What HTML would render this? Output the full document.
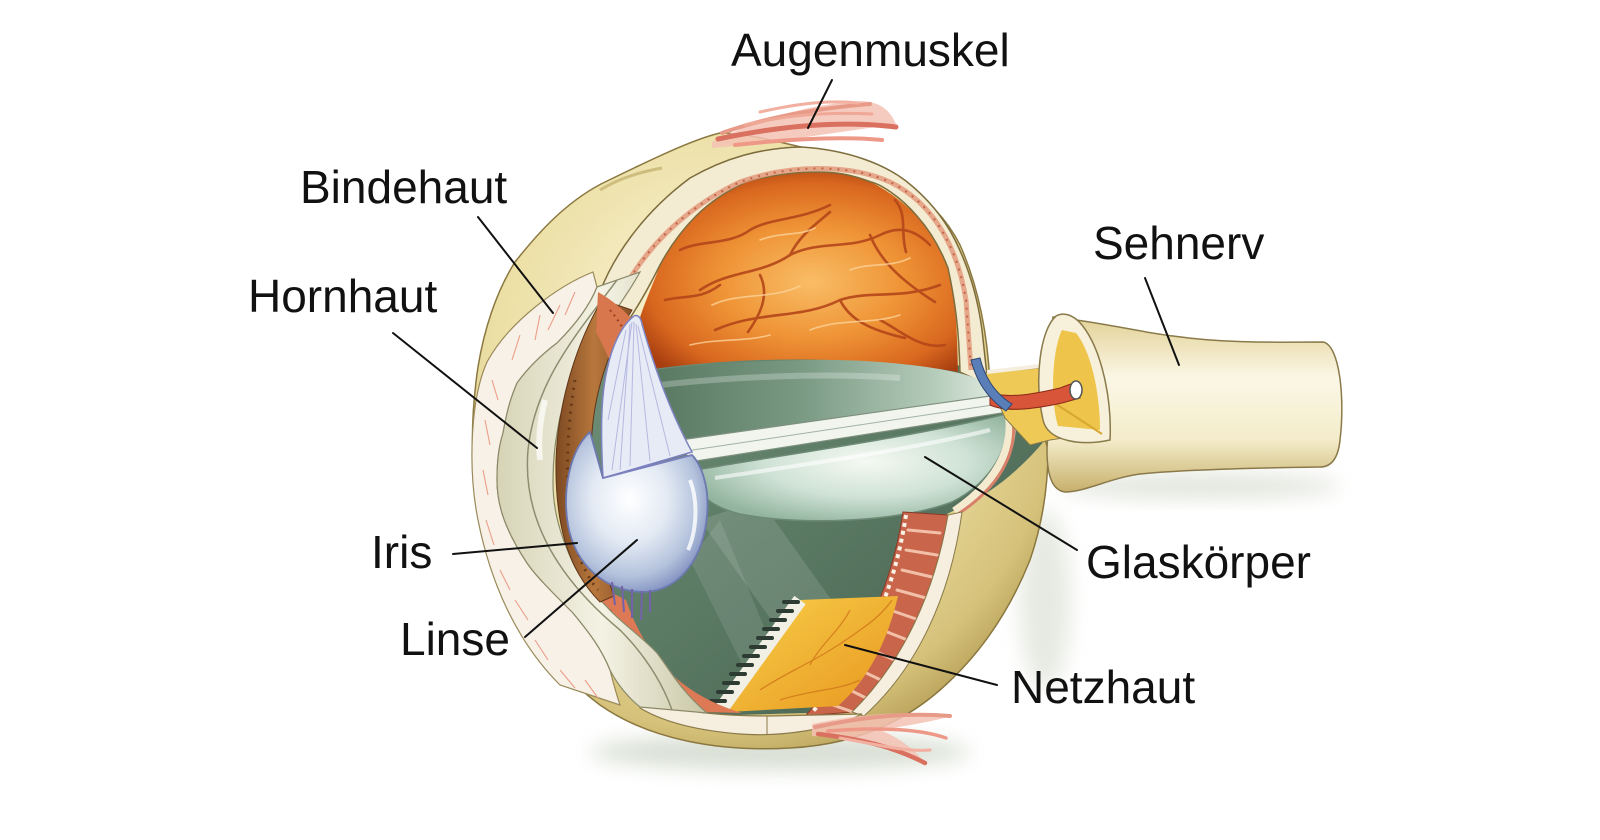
<!DOCTYPE html>
<html><head><meta charset="utf-8"><style>
html,body{margin:0;padding:0;background:#fff;}
svg{display:block;}
text{font-family:"Liberation Sans",Arial,sans-serif;font-size:46px;fill:#111;}
</style></head><body>
<svg width="1600" height="840" viewBox="0 0 1600 840" xmlns="http://www.w3.org/2000/svg">
<defs>
<filter id="blur" x="-50%" y="-50%" width="200%" height="200%"><feGaussianBlur stdDeviation="10"/></filter>
<radialGradient id="ysc" cx="0.42" cy="0.35" r="0.75">
<stop offset="0" stop-color="#fbf5da"/><stop offset="0.5" stop-color="#ece0a6"/><stop offset="0.82" stop-color="#d6c27a"/><stop offset="1" stop-color="#a48c45"/></radialGradient>
<radialGradient id="ora" cx="0.55" cy="0.55" r="0.62">
<stop offset="0" stop-color="#f9bd66"/><stop offset="0.45" stop-color="#ef9436"/><stop offset="0.8" stop-color="#d9671f"/><stop offset="1" stop-color="#a63d10"/></radialGradient>
<linearGradient id="gbase" x1="0" y1="0" x2="1" y2="1">
<stop offset="0" stop-color="#6f8f78"/><stop offset="0.5" stop-color="#5a7963"/><stop offset="1" stop-color="#425d4a"/></linearGradient>
<linearGradient id="gup" x1="0" y1="0" x2="1" y2="0">
<stop offset="0" stop-color="#55745d"/><stop offset="0.45" stop-color="#7a9a84"/><stop offset="0.8" stop-color="#b3cab8"/><stop offset="1" stop-color="#e6efe6"/></linearGradient>
<radialGradient id="bowl" cx="0.55" cy="0.45" r="0.6">
<stop offset="0" stop-color="#f5f9f3"/><stop offset="0.55" stop-color="#cfe2d5"/><stop offset="1" stop-color="#93b59f"/></radialGradient>
<radialGradient id="lens" cx="0.45" cy="0.42" r="0.6">
<stop offset="0" stop-color="#ffffff"/><stop offset="0.45" stop-color="#e3eaf4"/><stop offset="0.8" stop-color="#b4c2dc"/><stop offset="1" stop-color="#8595c2"/></radialGradient>
<linearGradient id="nerve" x1="0" y1="0" x2="0" y2="1">
<stop offset="0" stop-color="#e2d196"/><stop offset="0.35" stop-color="#fbf7e6"/><stop offset="0.7" stop-color="#f4ecca"/><stop offset="1" stop-color="#c8b06c"/></linearGradient>
<linearGradient id="yel" x1="0" y1="0" x2="1" y2="1">
<stop offset="0" stop-color="#f8d04a"/><stop offset="1" stop-color="#e8961e"/></linearGradient>
<linearGradient id="corn" x1="0" y1="0" x2="1" y2="0">
<stop offset="0" stop-color="#d6d4b6"/><stop offset="0.5" stop-color="#f4f2e4"/><stop offset="1" stop-color="#c9c7a6"/></linearGradient>
<linearGradient id="iris" x1="0" y1="0" x2="1" y2="0">
<stop offset="0" stop-color="#7e4a22"/><stop offset="0.5" stop-color="#b7773c"/><stop offset="1" stop-color="#8a5128"/></linearGradient>
</defs>

<rect width="1600" height="840" fill="#fff"/>

<!-- shadows -->
<ellipse cx="780" cy="752" rx="190" ry="18" fill="#c9d2c2" opacity="0.7" filter="url(#blur)"/>
<ellipse cx="1200" cy="486" rx="140" ry="12" fill="#d3d9cc" opacity="0.7" filter="url(#blur)"/>
<ellipse cx="1045" cy="600" rx="25" ry="90" fill="#d6dccf" opacity="0.6" filter="url(#blur)"/>

<!-- outer sclera silhouette -->
<path d="M720,133 C690,140 640,165 601,184 C565,203 538,233 515,262 C496,292 484,330 478,367 C470,420 470,480 482,530 C500,600 540,660 600,705 C650,740 720,752 790,748 C850,745 900,725 940,690 C980,655 1010,610 1030,560 C1042,525 1048,490 1048,450 L1040,420 L990,385 C988,340 980,290 960,245 C935,195 880,160 801,147 C770,140 745,133 720,133 Z" fill="url(#ysc)" stroke="#8b7840" stroke-width="1.5"/>
<path d="M600,190 C620,178 640,172 662,168" stroke="#b9a35c" stroke-width="3" fill="none" opacity="0.6"/>

<!-- interior base green -->
<path d="M600,330 L640,340 L958,365 L1000,395 L1045,440 C1020,470 990,495 955,510 L945,515 C930,580 900,650 840,712 L700,716 C650,700 620,660 605,610 C590,560 585,460 600,330 Z" fill="url(#gbase)"/>
<path d="M700,520 L760,500 L860,640 L800,660 Z" fill="#ffffff" opacity="0.12"/>
<path d="M690,560 L720,520 L790,690 L760,700 Z" fill="#ffffff" opacity="0.1"/>

<!-- orange dome -->
<path d="M632,372 L636,330 C645,300 655,280 660,265 C672,245 684,228 696,216 C715,198 730,188 748,181 C775,174 800,172 818,172 C840,172 858,176 871,182 C890,192 905,204 917,216 C932,235 942,252 948,268 C955,295 957,320 958,372 C900,362 830,358 760,360 C700,362 660,368 632,372 Z" fill="url(#ora)"/>
<g fill="none" stroke="#b4461a" stroke-width="2.6" stroke-linecap="round" opacity="0.9">
<path d="M700,290 C730,270 760,275 790,255 C820,240 850,250 880,235 C900,225 915,230 930,245"/>
<path d="M790,255 C800,235 815,225 830,212"/>
<path d="M715,330 C760,310 800,320 840,300 C870,290 900,300 940,285"/>
<path d="M840,300 C850,320 870,330 905,338"/>
<path d="M680,250 C700,240 730,245 750,230 C770,218 800,220 830,205"/>
<path d="M870,235 C880,260 900,280 935,302"/>
<path d="M760,275 C770,295 760,315 748,332"/>
<path d="M895,200 C908,215 900,232 906,252"/>
<path d="M665,300 C685,295 700,300 720,285"/>
<path d="M880,320 C900,330 920,350 945,345"/>
</g>
<g fill="none" stroke="#fcd39a" stroke-width="1.6" stroke-linecap="round" opacity="0.8">
<path d="M712,305 C740,292 770,300 800,286"/>
<path d="M810,330 C840,318 870,325 900,315"/>
<path d="M760,240 C780,232 800,236 815,228"/>
<path d="M850,270 C870,262 890,268 910,258"/>
<path d="M690,345 C720,338 745,342 770,335"/>
</g>

<!-- top sclera cut band -->
<path d="M600,292 C612,260 640,215 690,178 C725,158 760,148 801,147 C850,150 885,165 906,181 C930,200 945,220 955,240 C970,270 978,300 982,330 L988,385 L960,372 C959,330 955,300 948,268 C938,242 925,225 917,216 C900,196 880,184 871,182 C850,174 835,172 818,172 C790,172 770,176 748,181 C725,192 710,202 696,216 C680,232 668,250 660,265 C650,285 642,300 630,318 Z" fill="#f4ecd2" stroke="#7d6c3c" stroke-width="1.5"/>
<path d="M618,300 C640,255 680,210 740,182 C790,164 850,164 890,182 C935,204 958,250 966,300 L971,370" fill="none" stroke="#e39a7c" stroke-width="5" opacity="0.85"/>
<path d="M618,300 C640,255 680,210 740,182 C790,164 850,164 890,182 C935,204 958,250 966,300 L971,370" fill="none" stroke="#b8553a" stroke-width="2" stroke-dasharray="2 6" opacity="0.8"/>

<!-- upper green -->
<path d="M636,372 C700,364 800,356 880,362 C930,366 960,372 975,378 C990,385 1000,392 1005,398 L686,446 C668,420 648,395 636,372 Z" fill="url(#gup)"/>
<path d="M660,385 C720,378 820,372 900,378" stroke="#ffffff" stroke-width="6" fill="none" opacity="0.25"/>

<!-- canal -->
<path d="M680,440 L1004,394 L1008,412 L690,462 Z" fill="#f1f5ee" stroke="#7f907f" stroke-width="1.2"/>
<path d="M686,451 L1006,403" stroke="#a3b2a3" stroke-width="1"/>

<!-- bowl -->
<path d="M697,470 C760,458 900,440 1006,414 C1012,445 992,482 952,502 C900,522 800,526 740,514 C705,505 690,487 697,470 Z" fill="url(#bowl)" stroke="#6d8a76" stroke-width="1.5"/>
<path d="M715,478 C780,468 900,452 990,430" stroke="#ffffff" stroke-width="4" fill="none" opacity="0.6"/>

<!-- right cut edge of bowl -->
<path d="M1006,400 C1020,440 1002,480 955,512" stroke="#f3ead0" stroke-width="10" fill="none"/>
<path d="M1010,405 C1022,445 1004,484 958,514" stroke="#d9806a" stroke-width="3" fill="none"/>

<!-- lower right red choroid band -->
<path d="M903,512 L948,515 C935,590 905,660 852,712 L805,716 C850,670 890,600 903,512 Z" fill="#c8654b" stroke="#8a3a28" stroke-width="1"/>
<g stroke="#f2c0a8" stroke-width="3" stroke-linecap="round">
<path d="M908,530 L940,533"/><path d="M906,550 L937,555"/><path d="M902,570 L932,577"/><path d="M897,590 L926,598"/><path d="M890,610 L919,620"/><path d="M882,630 L910,641"/><path d="M872,650 L899,662"/><path d="M860,670 L885,682"/><path d="M846,688 L870,700"/><path d="M830,704 L853,712"/>
</g>
<path d="M948,515 L962,512 C950,600 915,670 864,716 L852,712 C905,660 935,590 948,515 Z" fill="#f6efdf" stroke="#8a7a4a" stroke-width="1"/>
<path d="M906,515 C893,600 860,665 812,712" stroke="#f8f1e6" stroke-width="4" fill="none" stroke-dasharray="4 4"/>

<!-- yellow retina patch -->
<path d="M800,600 L898,596 C888,640 868,680 838,706 L728,712 L762,660 Z" fill="url(#yel)"/>
<g fill="none" stroke="#d0761a" stroke-width="1.3" opacity="0.8">
<path d="M760,690 C790,670 820,660 860,630 C875,620 885,610 892,600"/>
<path d="M810,665 C820,645 840,630 850,610"/>
<path d="M780,700 C810,690 840,690 860,680"/>
</g>
<!-- zigzag ora serrata -->
<path d="M800,600 L722,708" stroke="#f2f0e4" stroke-width="14" fill="none"/>
<g stroke="#2d3b33" stroke-width="4" stroke-linecap="round">
<path d="M798,602 h-14"/><path d="M792,611 h-14"/><path d="M785,620 h-14"/><path d="M778,629 h-14"/><path d="M772,638 h-14"/><path d="M765,647 h-14"/><path d="M758,656 h-14"/><path d="M752,665 h-14"/><path d="M745,674 h-14"/><path d="M738,683 h-14"/><path d="M732,692 h-14"/><path d="M725,701 h-14"/>
</g>

<!-- bottom cut white band -->
<path d="M640,700 C680,712 720,716 770,716 L862,714 C830,730 780,737 740,734 C690,730 660,720 640,708 Z" fill="#f6efdf" stroke="#8a7a4a" stroke-width="1.2"/>
<path d="M767,716 L767,734" stroke="#8a7a4a" stroke-width="1"/>

<!-- bottom ciliary -->
<path d="M596,585 C608,640 640,690 700,712 L742,713 C682,695 646,658 626,600 Z" fill="#dd7a55"/>
<path d="M610,610 C625,650 650,680 690,700" stroke="#9c3e22" stroke-width="2.5" fill="none" stroke-dasharray="2 5"/>

<!-- conjunctiva -->
<path d="M593,272 C560,285 510,320 487,362 C470,400 468,470 478,520 C490,580 515,640 560,685 L620,705 C615,690 612,678 610,670 C600,645 585,628 573,613 C550,590 535,575 527,563 C505,530 497,505 497,480 C497,455 500,443 503,433 C508,405 512,395 517,383 C530,365 545,352 557,343 C575,325 590,305 597,287 Z" fill="#f8f1e8" stroke="#9a8a5a" stroke-width="1.2"/>
<g fill="none" stroke="#ec9e88" stroke-width="1.1">
<path d="M575,292 L565,315 M560,305 L548,330 M540,315 L535,340 M520,335 L512,360"/>
<path d="M492,380 L498,400 M485,420 L490,445 M483,470 L488,495 M486,520 L494,545"/>
<path d="M500,570 L510,590 M515,600 L528,620 M535,640 L548,660 M560,670 L575,688 M585,680 L598,698"/>
</g>

<!-- cornea -->
<path d="M597,287 C590,305 575,325 557,343 C545,352 530,365 517,383 C512,395 508,405 503,433 C500,443 497,455 497,480 C497,505 505,530 527,563 C535,575 550,590 573,613 C585,628 600,645 610,670 C615,680 625,695 640,707 L707,713 C680,690 670,670 657,653 C640,635 620,622 607,607 C590,590 580,578 573,563 C560,535 553,510 553,483 C553,455 556,437 560,417 C566,395 575,375 583,360 C600,330 625,300 640,272 Z" fill="url(#corn)" stroke="#8a8a6a" stroke-width="1.2"/>
<path d="M617,280 C580,330 535,380 528,450 C522,520 560,580 620,630 C650,660 665,690 672,710" fill="none" stroke="#8d8e70" stroke-width="1.5"/>
<path d="M545,400 C540,420 538,440 540,460" stroke="#ffffff" stroke-width="6" fill="none" opacity="0.7"/>

<!-- iris -->
<path d="M602,300 C578,340 558,400 556,460 C555,520 566,568 600,602 L614,596 C604,570 598,540 596,510 C590,470 588,430 600,385 C608,355 620,330 632,310 Z" fill="url(#iris)" stroke="#5e3519" stroke-width="1"/>
<path d="M575,380 C568,420 565,470 570,520 C575,550 585,575 598,590" stroke="#5a2f12" stroke-width="3" fill="none" stroke-dasharray="2 6" opacity="0.8"/>

<!-- top ciliary -->
<path d="M598,292 C612,300 628,312 642,332 L646,342 C634,348 626,362 620,385 C614,372 606,350 596,332 Z" fill="#d8774d"/>
<path d="M610,310 C620,322 628,335 632,350" stroke="#9c3e22" stroke-width="2" fill="none" stroke-dasharray="2 4"/>
<path d="M628,342 C624,360 622,375 626,392" stroke="#d8774d" stroke-width="6" stroke-linecap="round" fill="none"/>

<!-- lens zonule fan -->
<path d="M603,478 C601,440 600,400 607,370 C612,345 622,325 634,316 C638,314 641,318 642,324 C655,370 672,415 692,452 Z" fill="#e6ebf6" stroke="#7e82c0" stroke-width="1.5"/>
<g stroke="#a9addb" stroke-width="1" opacity="0.8">
<path d="M632,322 L612,470"/><path d="M634,322 L630,466"/><path d="M636,324 L650,461"/><path d="M638,326 L670,456"/><path d="M630,324 L620,470"/><path d="M626,330 L608,420"/>
</g>

<!-- lens bulb -->
<path d="M590,432 C570,450 562,490 568,525 C575,565 605,592 645,592 C682,590 704,555 707,515 C710,485 700,463 692,455 L603,478 Z" fill="url(#lens)" stroke="#6c78b0" stroke-width="1.8"/>
<path d="M603,478 L692,455" stroke="#7e82c0" stroke-width="1.5"/>
<path d="M690,480 C698,500 697,530 688,550" stroke="#ffffff" stroke-width="4" fill="none" opacity="0.8"/>
<g stroke="#7462a8" stroke-width="2">
<path d="M612,582 L615,605"/><path d="M622,586 L624,612"/><path d="M632,589 L632,618"/><path d="M642,591 L641,620"/><path d="M650,590 L650,612"/>
</g>

<!-- optic nerve -->
<path d="M1053,317 C1100,322 1140,332 1173,336 C1230,344 1280,342 1323,342 C1340,345 1345,400 1340,440 C1338,460 1330,467 1320,467 C1250,468 1180,470 1140,474 C1110,478 1085,492 1065,492 C1050,490 1047,470 1047,450 Z" fill="url(#nerve)" stroke="#8a7a4a" stroke-width="1.5"/>
<!-- nerve fibers into eye -->
<path d="M985,373 L1062,366 L1102,432 L1050,440 L1030,445 L1005,418 Z" fill="#efc955" stroke="#8a7a4a" stroke-width="1"/>
<path d="M987,372 L1040,366" stroke="#f6efdf" stroke-width="4"/>
<!-- open face -->
<path d="M1056,316 C1040,330 1034,380 1043,420 C1048,442 1082,446 1110,440 C1112,400 1102,350 1082,325 C1073,314 1063,312 1056,316 Z" fill="#f7f1dc" stroke="#8a7a4a" stroke-width="1.5"/>
<path d="M1062,330 C1052,350 1050,400 1058,426 L1100,430 C1100,390 1090,350 1076,333 Z" fill="#eec54a"/>
<path d="M1050,400 L1102,434" stroke="#d8a730" stroke-width="2"/>
<!-- artery -->
<path d="M990,393 C1010,398 1030,395 1060,388 L1076,382 L1080,398 L1062,403 C1030,410 1005,412 990,405 Z" fill="#d9553a" stroke="#8a2a18" stroke-width="1"/>
<ellipse cx="1076" cy="390" rx="6" ry="9" fill="#fff" stroke="#555" stroke-width="1.5"/>
<!-- vein -->
<path d="M971,360 L980,358 C985,378 996,394 1012,404 L1006,411 C990,400 977,384 971,360 Z" fill="#5a7fb8" stroke="#2e4670" stroke-width="1"/>

<!-- muscles top -->
<path d="M712,142 C760,118 810,104 862,101 C880,102 890,110 896,124 C870,128 840,132 800,138 C770,141 740,146 712,148 Z" fill="#f4c2b4" opacity="0.85"/>
<g fill="none" stroke-linecap="round">
<path d="M722,133 C770,116 820,108 870,104" stroke="#e89a88" stroke-width="4"/>
<path d="M718,139 C780,126 840,120 896,127" stroke="#d97060" stroke-width="5"/>
<path d="M735,145 C790,139 840,136 882,140" stroke="#ee9888" stroke-width="4"/>
<path d="M760,112 C800,103 830,100 858,103" stroke="#f2b0a0" stroke-width="3"/>
<path d="M745,125 C790,114 830,112 872,114" stroke="#f0a896" stroke-width="3"/>
</g>
<!-- muscles bottom -->
<path d="M812,724 C860,714 905,710 952,716 C930,722 905,726 880,730 C900,738 915,750 926,764 C890,748 850,738 812,736 Z" fill="#f4c2b4" opacity="0.85"/>
<g fill="none" stroke-linecap="round">
<path d="M815,727 C860,718 900,712 950,716" stroke="#e89a88" stroke-width="4"/>
<path d="M818,734 C870,740 900,750 925,763" stroke="#d97060" stroke-width="4.5"/>
<path d="M828,731 C880,727 920,729 946,738" stroke="#ee9888" stroke-width="3.5"/>
<path d="M840,738 C880,745 905,752 930,750" stroke="#f2b0a0" stroke-width="3"/>
</g>

<!-- leader lines -->
<g stroke="#111" stroke-width="2" stroke-linecap="round">
<line x1="832" y1="80" x2="808" y2="128"/>
<line x1="478" y1="217" x2="553" y2="313"/>
<line x1="393" y1="333" x2="537" y2="448"/>
<line x1="1145" y1="278" x2="1179" y2="365"/>
<line x1="453" y1="554" x2="577" y2="543"/>
<line x1="525" y1="637" x2="637" y2="540"/>
<line x1="925" y1="457" x2="1077" y2="550"/>
<line x1="845" y1="645" x2="997" y2="685"/>
</g>

<!-- labels -->
<text x="731" y="66">Augenmuskel</text>
<text x="300" y="203">Bindehaut</text>
<text x="248" y="312">Hornhaut</text>
<text x="1093" y="259">Sehnerv</text>
<text x="371" y="568">Iris</text>
<text x="400" y="655">Linse</text>
<text x="1086" y="578">Glaskörper</text>
<text x="1011" y="703">Netzhaut</text>
</svg>
</body></html>
